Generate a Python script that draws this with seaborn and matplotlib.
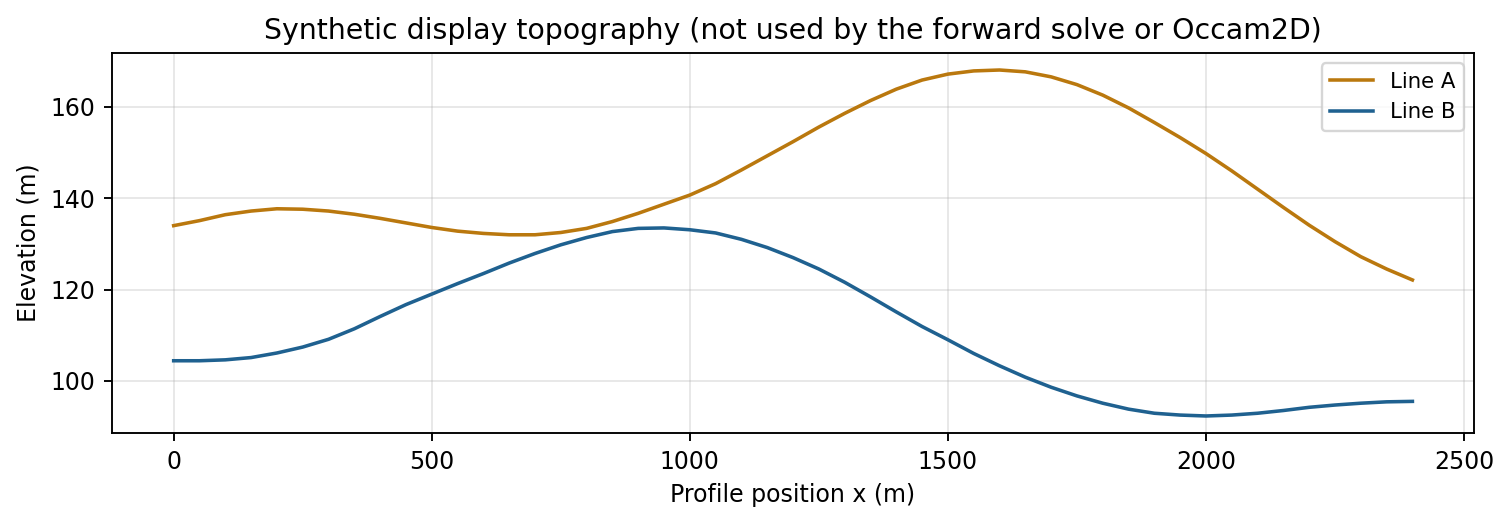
import pandas as pd
import matplotlib.pyplot as plt
from matplotlib.ticker import MultipleLocator
import seaborn as sns

# profile positions (m) every 50 m, elevations
x_pos = list(range(0, 2401, 50))
line_a = [134.0, 135.1, 136.4, 137.2, 137.7, 137.6, 137.2, 136.5, 135.6, 134.6,
          133.6, 132.8, 132.3, 132.0, 132.0, 132.5, 133.4, 134.9, 136.7, 138.7,
          140.7, 143.2, 146.2, 149.3, 152.4, 155.6, 158.6, 161.4, 163.9, 165.9,
          167.2, 167.9, 168.1, 167.7, 166.6, 164.9, 162.6, 159.8, 156.6, 153.3,
          149.8, 146.0, 142.0, 138.0, 134.1, 130.5, 127.2, 124.5, 122.1]
line_b = [104.4, 104.4, 104.6, 105.1, 106.1, 107.4, 109.1, 111.4, 114.1, 116.7,
          119.0, 121.3, 123.5, 125.8, 127.9, 129.8, 131.4, 132.7, 133.4, 133.5,
          133.1, 132.4, 131.0, 129.2, 127.0, 124.5, 121.6, 118.4, 115.1, 111.9,
          109.0, 106.0, 103.3, 100.8, 98.6, 96.7, 95.1, 93.8, 92.9, 92.5,
          92.3, 92.5, 92.9, 93.5, 94.2, 94.7, 95.1, 95.4, 95.5]
names = ['Line A', 'Line B']
colors = ['#ba780e', '#1f6190']

df = pd.concat([
    pd.DataFrame({'x': x_pos, 'z': line_a, 'line': names[0]}),
    pd.DataFrame({'x': x_pos, 'z': line_b, 'line': names[1]}),
])

fig, ax = plt.subplots(figsize=(1512 / 170, 525 / 170), dpi=170)
sns.lineplot(data=df, x='x', y='z', hue='line', palette=dict(zip(names, colors)),
             linewidth=1.5, ax=ax)
ax.grid(True, alpha=0.3)
ax.yaxis.set_major_locator(MultipleLocator(20))
ax.set_xlabel('Profile position x (m)')
ax.set_ylabel('Elevation (m)')
ax.set_title('Synthetic display topography (not used by the forward solve or Occam2D)')
ax.legend(loc='upper right', fontsize=9)
fig.subplots_adjust(left=0.0739, right=0.9751, top=0.8996, bottom=0.1747)
plt.savefig('out.png', dpi=170)
